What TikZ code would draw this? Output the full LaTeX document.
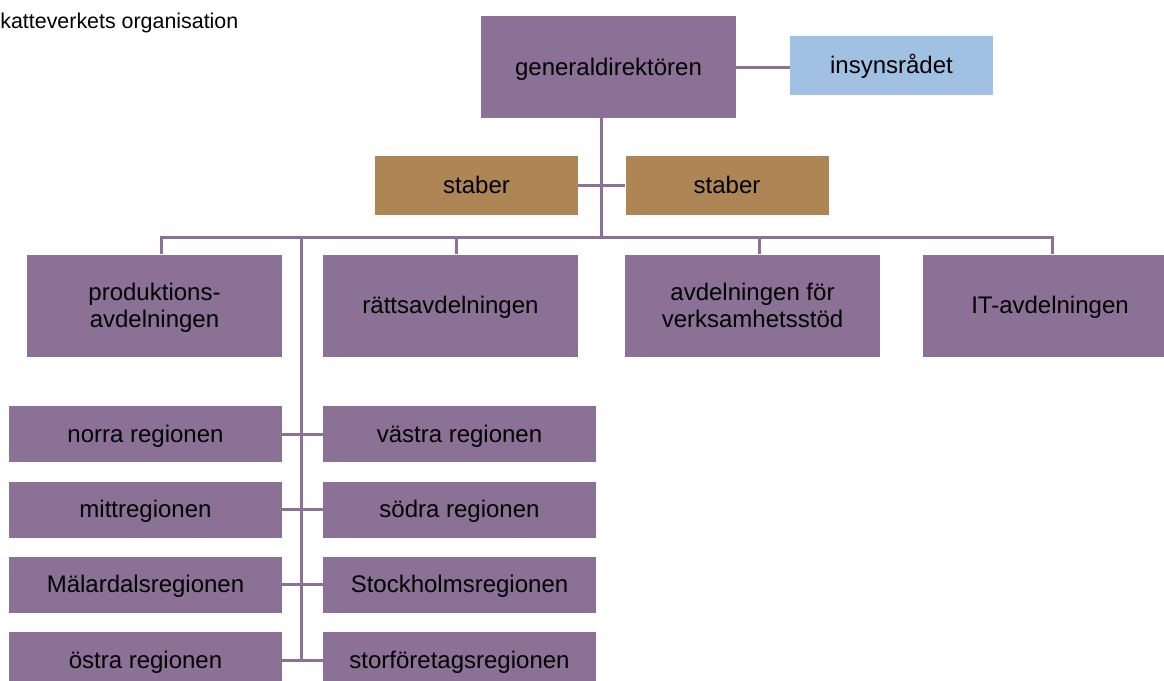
\documentclass[tikz,border=0pt]{standalone}
\usepackage{fontspec}
\setmainfont{Liberation Sans}
\definecolor{orglila}{RGB}{139,113,150}
\definecolor{stabbrun}{RGB}{174,133,84}
\definecolor{radsbla}{RGB}{161,193,227}
\newcommand{\radtopp}{\rule{0pt}{10.86pt}}
\newcommand{\radbotten}{\rule[-2.54pt]{0pt}{2.54pt}}
\tikzset{
  enhet/.style={fill=orglila, inner sep=0pt, align=center, font=\fontsize{12}{13.8}\selectfont,
    text height=10.86pt, text depth=2.54pt},
  tvarad/.style={text height={}, text depth={}},
  stor/.style={enhet, minimum width=127.5pt, minimum height=51pt},
  liten/.style={enhet, minimum width=101.5pt, minimum height=29.5pt},
  region/.style={enhet, minimum width=136.5pt, minimum height=28pt},
  linje/.style={draw=orglila, line width=1.5pt}
}
\begin{document}
\begin{tikzpicture}[x=0.5pt,y=-0.5pt]
    \useasboundingbox (0,0) rectangle (1164,681);
    \node[anchor=base west, inner sep=0pt, font=\fontsize{10.7}{12}\selectfont] (titel) at (0,28) {katteverkets organisation};
    % ledning
    \node[stor] (gd) at (608.5,67) {generaldirektören};
    \node[liten, fill=radsbla] (insyn) at (891.5,65.5) {insynsrådet};
    \node[liten, fill=stabbrun] (stabA) at (476.5,185.5) {staber};
    \node[liten, fill=stabbrun] (stabB) at (727,185.5) {staber};
    % avdelningar
    \node[stor, tvarad] (prod) at (154.5,305.5) {\radtopp produktions-\\avdelningen\radbotten};
    \node[stor] (ratt) at (450.5,305.5) {rättsavdelningen};
    \node[stor, tvarad] (verks) at (752.5,305.5) {\radtopp avdelningen för\\verksamhetsstöd\radbotten};
    \node[stor] (itavd) at (1050,305.5) {IT-avdelningen};
    % regioner
    \node[region] (norra) at (145.5,434) {norra regionen};
    \node[region] (vastra) at (459.5,434) {västra regionen};
    \node[region] (mitt) at (145.5,509.5) {mittregionen};
    \node[region] (sodra) at (459.5,509.5) {södra regionen};
    \node[region] (malar) at (145.5,584.5) {Mälardalsregionen};
    \node[region] (sthlm) at (459.5,584.5) {Stockholmsregionen};
    \node[region] (ostra) at (145.5,660) {östra regionen};
    \node[region] (storf) at (459.5,660) {storföretagsregionen};
    % linjer
    \coordinate (gdbus) at (601,237);
    \coordinate (t1) at (161,237);
    \coordinate (t2) at (456,237);
    \coordinate (t3) at (759,237);
    \coordinate (t4) at (1052,237);
    \coordinate (spine) at (301,237);
    \draw[linje] (gd.east) -- (gd.east -| insyn.west);
    \draw[linje] (gd.south -| gdbus) -- (gdbus);
    \draw[linje] (stabA.east) -- (stabB.west);
    \draw[linje] (t1 |- prod.north) -- (t1) -- (t4) -- (t4 |- itavd.north);
    \draw[linje] (t2) -- (t2 |- ratt.north);
    \draw[linje] (t3) -- (t3 |- verks.north);
    \draw[linje] (spine) -- (spine |- ostra.east);
    \draw[linje] (norra.east) -- (vastra.west);
    \draw[linje] (mitt.east) -- (sodra.west);
    \draw[linje] (malar.east) -- (sthlm.west);
    \draw[linje] (ostra.east) -- (storf.west);
\end{tikzpicture}
\end{document}
